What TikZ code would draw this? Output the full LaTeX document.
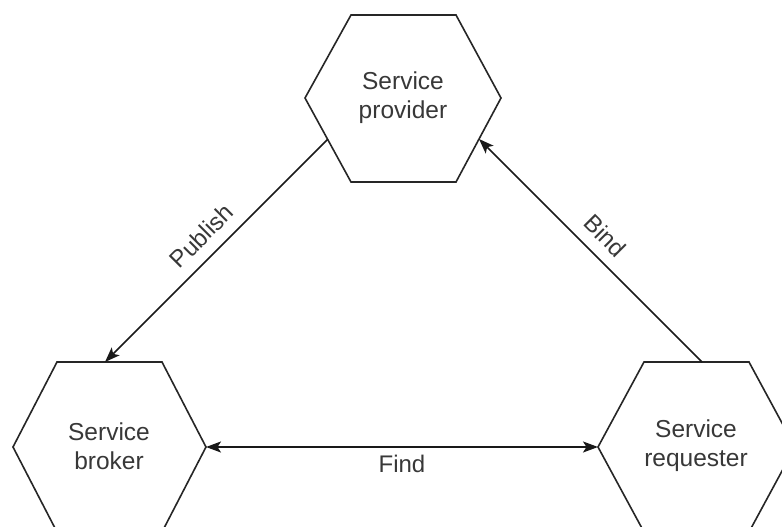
\documentclass[tikz,border=0pt]{standalone}
\usepackage{fontspec}
\setmainfont{Liberation Sans}
\usetikzlibrary{arrows.meta}
\begin{document}
\begin{tikzpicture}[x=1pt,y=-1pt,
  hex/.style={draw=black!85, line width=1.6pt, line join=miter},
  lbl/.style={font=\fontsize{24.5}{29}\selectfont, text=black!78, align=center},
  elbl/.style={font=\fontsize{24}{28}\selectfont, text=black!78},
  tip/.tip={Stealth[length=15pt,width=11pt,inset=3.5pt]},
  arr/.style={draw=black!90, line width=1.6pt, -tip}]
\clip (0,0) rectangle (782,527);
\fill[white] (0,0) rectangle (782,527);
% hexagons
\draw[hex] (351,15) -- (456,15) -- (501,98) -- (456,182) -- (351,182) -- (305,98) -- cycle;
\draw[hex] (57,362) -- (162,362) -- (206,447) -- (162,532) -- (57,532) -- (13,447) -- cycle;
\draw[hex] (644,362) -- (749,362) -- (795,447) -- (749,532) -- (644,532) -- (598,447) -- cycle;
% labels
\node[lbl] (prov) at (403,98) {Service\\provider};
\node[lbl] (brok) at (109,446) {Service\\broker};
\node[lbl] (req) at (696,446) {Service\\requester};
% connector end points
\coordinate (pubA) at (327.6,139.4);
\coordinate (pubB) at (105,362);
\coordinate (bindA) at (702,362);
\coordinate (bindB) at (479,139);
\coordinate (brokE) at (206,447);
\coordinate (reqW) at (598,447);
% connectors
\draw[arr] (pubA) -- node[elbl, sloped, above=8pt] (publbl) {Publish} (pubB);
\draw[arr] (bindA) -- node[elbl, sloped, above=8pt] (bindlbl) {Bind} (bindB);
\draw[arr, tip-tip] (brokE) -- node[elbl, below=4pt] (findlbl) {Find} (reqW);
\end{tikzpicture}
\end{document}
